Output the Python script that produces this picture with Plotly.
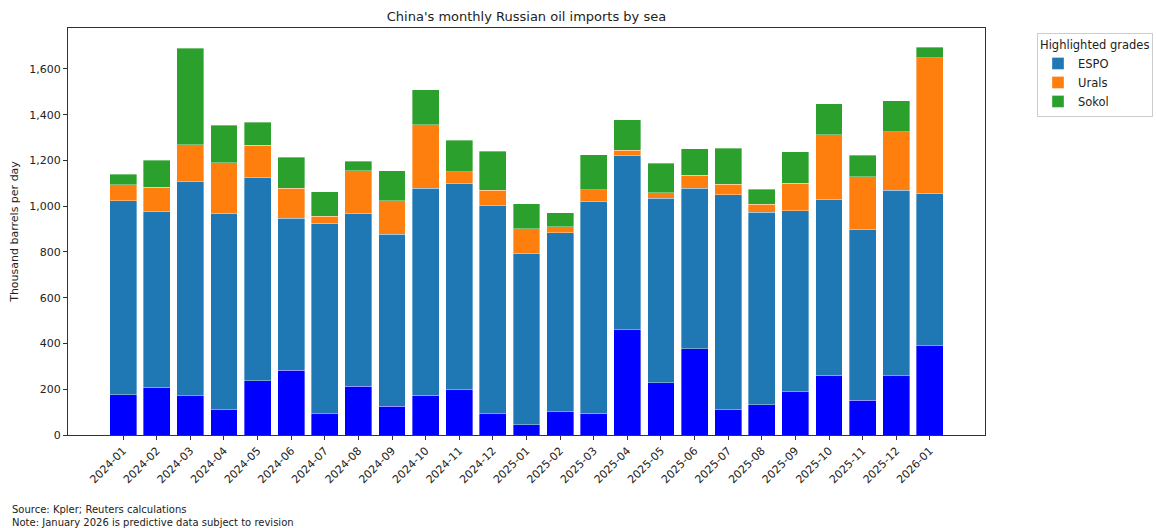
import plotly.graph_objects as go

months = ["2024-01", "2024-02", "2024-03", "2024-04", "2024-05", "2024-06", "2024-07",
          "2024-08", "2024-09", "2024-10", "2024-11", "2024-12", "2025-01", "2025-02",
          "2025-03", "2025-04", "2025-05", "2025-06", "2025-07", "2025-08", "2025-09",
          "2025-10", "2025-11", "2025-12", "2026-01"]

# Bottom (unlabelled) segment
other = [175, 208, 172, 111, 237, 284, 93, 214, 125, 173, 198, 93, 45, 102, 96,
         459, 229, 377, 111, 133, 188, 262, 153, 259, 390]
espo = [850, 769, 936, 859, 887, 663, 833, 756, 753, 906, 901, 910, 747, 782, 923,
        761, 806, 701, 939, 840, 793, 766, 745, 810, 666]
urals = [69, 105, 160, 220, 143, 132, 31, 186, 146, 278, 51, 67, 109, 26, 54,
         25, 24, 58, 45, 36, 120, 284, 230, 256, 594]
sokol = [46, 119, 423, 164, 100, 135, 107, 41, 132, 153, 139, 171, 110, 61, 153,
         134, 129, 116, 159, 66, 138, 135, 94, 135, 45]

yticks = [0, 200, 400, 600, 800, 1000, 1200, 1400, 1600]

FONT = "DejaVu Sans"
edge = dict(color="rgba(255,255,255,0.6)", width=0.6)

L, R, T, B = 68, 171, 28, 93
PW = 1156 - L - R
PH = 528 - T - B

fig = go.Figure()
fig.add_trace(go.Bar(x=months, y=other, name="Other", marker=dict(color="#0000ff", line=edge),
                     showlegend=False))
fig.add_trace(go.Bar(x=months, y=espo, name="ESPO", marker=dict(color="#1f77b4", line=edge)))
fig.add_trace(go.Bar(x=months, y=urals, name="Urals", marker=dict(color="#ff7f0e", line=edge)))
fig.add_trace(go.Bar(x=months, y=sokol, name="Sokol", marker=dict(color="#2ca02c", line=edge)))

fig.update_layout(
    barmode="stack",
    bargap=0.2,
    width=1156, height=528,
    margin=dict(l=L, r=R, t=T, b=B, autoexpand=False),
    paper_bgcolor="white", plot_bgcolor="white",
    font=dict(family=FONT, size=11, color="#222"),
    title=dict(text="China's monthly Russian oil imports by sea", x=(68 + 985) / 2 / 1156,
               xanchor="center", y=1 - 16 / 528, yanchor="middle",
               font=dict(family=FONT, size=13, color="#222")),
    xaxis=dict(type="category", range=[-1.64, 25.64], tickangle=-45, showline=True,
               linecolor="#333", linewidth=1, mirror=True, ticks="outside", ticklen=4,
               tickcolor="#333", showgrid=False, tickfont=dict(size=11), automargin=False),
    yaxis=dict(range=[0, 1779], tickvals=yticks, tickformat=",d", showline=True,
               linecolor="#333", linewidth=1, mirror=True, ticks="outside", ticklen=4,
               tickcolor="#333", showgrid=False, zeroline=False, automargin=False,
               title=dict(text="Thousand barrels per day", font=dict(size=11), standoff=8),
               tickfont=dict(size=11)),
    legend=dict(title=dict(text="Highlighted grades", side="top", font=dict(size=11.5)),
                xref="container", yref="container",
                x=1037 / 1156, xanchor="left", y=1 - 33 / 528, yanchor="top",
                bordercolor="#ccc", borderwidth=1, font=dict(size=11.5),
                traceorder="normal", itemwidth=30),
    annotations=[
        dict(text="Source: Kpler; Reuters calculations<br>Note: January 2026 is predictive data subject to revision",
             xref="paper", yref="paper", x=-(L - 10) / PW, y=-(502 - (528 - B)) / PH,
             xanchor="left", yanchor="top", showarrow=False, align="left",
             font=dict(family=FONT, size=10, color="#222")),
    ],
)

fig.write_html("out.html", config={"displayModeBar": False},
               post_script="document.body.style.margin='0';document.body.style.padding='0';")
